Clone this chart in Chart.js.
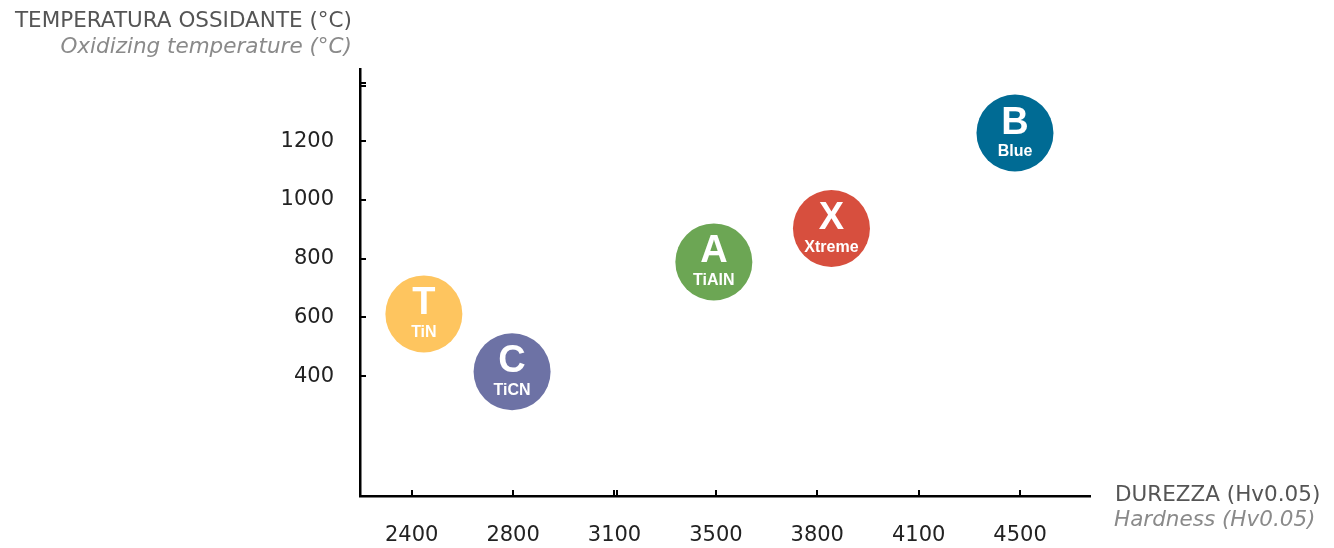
<!DOCTYPE html>
<html>
<head>
<meta charset="utf-8">
<script src="https://cdn.jsdelivr.net/npm/chart.js@4.4.1/dist/chart.umd.min.js"></script>
<style>
  html, body { margin: 0; padding: 0; background: #fff; }
  #wrap { width: 1334px; height: 548px; position: relative; }
</style>
</head>
<body>
<div id="wrap"><canvas id="coatingChart"></canvas></div>
<script>
// coatings
const codes = ["T", "C", "A", "X", "B"];
const names = ["TiN", "TiCN", "TiAlN", "Xtreme", "Blue"];
// x position measured in tick slots (0 = 2400, 1 = 2800, ...)
const hardnessPos = [0.12, 0.99, 2.98, 4.14, 5.95];
const oxTemp = [612, 415, 789, 903, 1228];
const colors = ["#FEC55F", "#6D72A5", "#6CA654", "#D74F3E", "#006B94"];

// axis ticks
const hardnessLabels = ["2400", "2800", "3100", "3500", "3800", "4100", "4500"];
const hardnessTicks = [0, 1, 2, 3, 4, 5, 6];
const tempTicks = [400, 600, 800, 1000, 1200];
const tempExtraTick = 1400;

const points = hardnessPos.map((x, i) => ({ x: x, y: oxTemp[i], r: 38.5 }));

const overlay = {
  id: "overlay",
  afterDatasetsDraw(chart) {
    const ctx = chart.ctx;
    const meta = chart.getDatasetMeta(0);
    ctx.save();
    ctx.fillStyle = "#fff";
    ctx.textAlign = "center";
    ctx.textBaseline = "middle";
    meta.data.forEach((pt, i) => {
      ctx.font = 'bold 38px "Liberation Sans", Arial, sans-serif';
      ctx.fillText(codes[i], pt.x, pt.y - 10);
      ctx.font = 'bold 16px "Liberation Sans", Arial, sans-serif';
      ctx.fillText(names[i], pt.x, pt.y + 19);
    });
    ctx.restore();
  },
  afterDraw(chart) {
    const ctx = chart.ctx;
    const xs = chart.scales.x;
    const ys = chart.scales.y;
    const area = chart.chartArea;
    ctx.save();
    ctx.strokeStyle = "#000";
    ctx.lineWidth = 2;
    // inward tick marks
    hardnessTicks.forEach((v) => {
      const px = Math.round(xs.getPixelForValue(v));
      ctx.beginPath();
      ctx.moveTo(px, area.bottom);
      ctx.lineTo(px, area.bottom - 6);
      ctx.stroke();
      if (v === 2) {
        ctx.beginPath();
        ctx.moveTo(px + 3, area.bottom);
        ctx.lineTo(px + 3, area.bottom - 6);
        ctx.stroke();
      }
    });
    tempTicks.concat([tempExtraTick]).forEach((v) => {
      const py = Math.round(ys.getPixelForValue(v));
      ctx.beginPath();
      ctx.moveTo(area.left, py);
      ctx.lineTo(area.left + 6, py);
      ctx.stroke();
      if (v === tempExtraTick) {
        ctx.beginPath();
        ctx.moveTo(area.left, py + 3);
        ctx.lineTo(area.left + 6, py + 3);
        ctx.stroke();
      }
    });

    // axis titles
    ctx.textBaseline = "middle";
    ctx.textAlign = "right";
    ctx.font = '21.5px "DejaVu Sans", Verdana, sans-serif';
    ctx.fillStyle = "#555";
    ctx.fillText("TEMPERATURA OSSIDANTE (°C)", 352, 21);
    ctx.font = 'italic 21.5px "DejaVu Sans", Verdana, sans-serif';
    ctx.fillStyle = "#8a8a8a";
    ctx.fillText("Oxidizing temperature (°C)", 352, 47);

    ctx.textAlign = "left";
    ctx.font = '21.5px "DejaVu Sans", Verdana, sans-serif';
    ctx.fillStyle = "#555";
    ctx.fillText("DUREZZA (Hv0.05)", 1115, 495);
    ctx.font = 'italic 21.5px "DejaVu Sans", Verdana, sans-serif';
    ctx.fillStyle = "#8a8a8a";
    ctx.fillText("Hardness (Hv0.05)", 1114, 520);
    ctx.restore();
  }
};

const ctx = document.getElementById("coatingChart").getContext("2d");
const coatingChart = new Chart(ctx, {
  type: "bubble",
  data: {
    datasets: [
      {
        label: "Coatings",
        data: points,
        backgroundColor: colors,
        hoverBackgroundColor: colors,
        borderWidth: 0,
        hoverBorderWidth: 0,
        hoverRadius: 0,
      },
    ],
  },
  options: {
    responsive: true,
    maintainAspectRatio: false,
    animation: false,
    events: [],
    layout: { padding: { left: 0, right: 244, top: 69, bottom: 0 } },
    plugins: {
      legend: { display: false },
      tooltip: { enabled: false },
      title: { display: false },
    },
    scales: {
      x: {
        type: "linear",
        min: -0.51,
        max: 6.69,
        afterBuildTicks: (scale) => {
          scale.ticks = hardnessTicks.map((v) => ({ value: v }));
        },
        afterFit: (scale) => {
          scale.height = 52;
        },
        grid: { display: false, drawTicks: false },
        border: { display: true, color: "#000", width: 2.5 },
        ticks: {
          padding: 27,
          color: "#222",
          font: { family: '"DejaVu Sans", Verdana, sans-serif', size: 21 },
          maxRotation: 0,
          autoSkip: false,
          callback: (v) => hardnessLabels[v],
        },
      },
      y: {
        type: "linear",
        min: -8,
        max: 1446,
        afterBuildTicks: (scale) => {
          scale.ticks = tempTicks.map((v) => ({ value: v }));
        },
        afterFit: (scale) => {
          scale.width = 360;
        },
        grid: { display: false, drawTicks: false },
        border: { display: true, color: "#000", width: 2.5 },
        ticks: {
          padding: 26,
          color: "#222",
          font: { family: '"DejaVu Sans", Verdana, sans-serif', size: 21 },
          autoSkip: false,
          callback: (v) => String(v),
        },
      },
    },
  },
  plugins: [overlay],
});
</script>
</body>
</html>
